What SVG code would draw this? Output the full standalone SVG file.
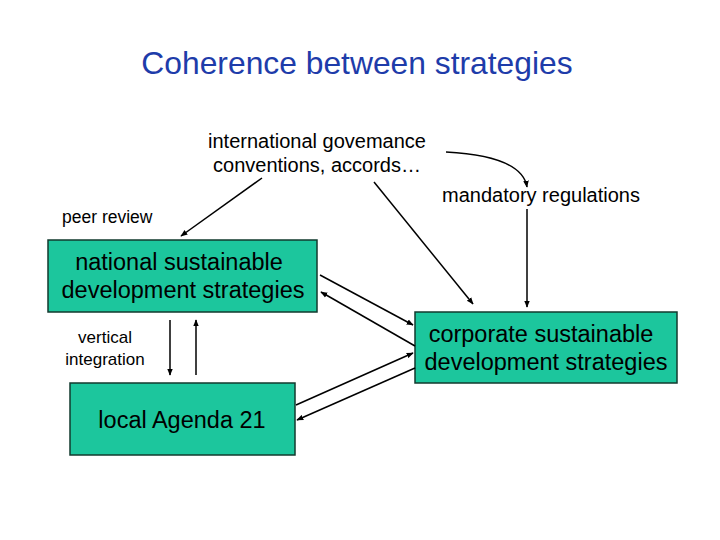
<svg xmlns="http://www.w3.org/2000/svg" width="720" height="540" viewBox="0 0 720 540">
<style>
text{font-family:"Liberation Sans",Arial,sans-serif;fill:#000}
.box{fill:#1CC69D;stroke:#123a2e;stroke-width:1.5}
.ln{stroke:#000;stroke-width:1.5;fill:none;marker-end:url(#ah)}
</style>
<defs>
<marker id="ah" viewBox="0 0 10 10" refX="9" refY="5" markerWidth="7" markerHeight="7" orient="auto" markerUnits="userSpaceOnUse">
<path d="M0,1 L10,5 L0,9 Z" fill="#000"/>
</marker>
</defs>
<rect width="720" height="540" fill="#fff"/>
<text x="357" y="74" font-size="31.8" text-anchor="middle" style="fill:#1E3CAA">Coherence between strategies</text>
<g id="intl">
<text x="317" y="148" font-size="20" text-anchor="middle">international govemance</text>
<text x="317" y="172" font-size="20" text-anchor="middle">conventions, accords…</text>
</g>
<g id="mandatory">
<text x="541" y="202" font-size="20" text-anchor="middle">mandatory regulations</text>
</g>
<g id="peer">
<text x="62" y="223" font-size="17.5">peer review</text>
</g>
<g id="vertical">
<text x="105" y="343" font-size="17" text-anchor="middle">vertical</text>
<text x="105" y="365" font-size="17" text-anchor="middle">integration</text>
</g>
<g id="national">
<rect class="box" x="48" y="240" width="269" height="72"/>
<text x="179" y="270" font-size="23.5" text-anchor="middle">national sustainable</text>
<text x="183" y="298" font-size="23.5" text-anchor="middle">development strategies</text>
</g>
<g id="corporate">
<rect class="box" x="415" y="312" width="262" height="71"/>
<text x="541" y="342" font-size="23.5" text-anchor="middle">corporate sustainable</text>
<text x="546" y="370" font-size="23.5" text-anchor="middle">development strategies</text>
</g>
<g id="local">
<rect class="box" x="70" y="383" width="225" height="72"/>
<text x="182" y="428" font-size="23.5" text-anchor="middle">local Agenda 21</text>
</g>
<g id="connectors">
<line class="ln" x1="262" y1="178" x2="181" y2="236"/>
<line class="ln" x1="374" y1="182" x2="473" y2="304"/>
<path class="ln" d="M446,152 Q522,156 527,187"/>
<line class="ln" x1="527" y1="209" x2="527" y2="307"/>
<line class="ln" x1="320" y1="275" x2="413" y2="325"/>
<line class="ln" x1="415" y1="346" x2="321" y2="292"/>
<line class="ln" x1="296" y1="405" x2="413" y2="353"/>
<line class="ln" x1="415" y1="368" x2="297" y2="420"/>
<line class="ln" x1="170" y1="320" x2="170" y2="375"/>
<line class="ln" x1="196" y1="375" x2="196" y2="320"/>
</g>
</svg>
